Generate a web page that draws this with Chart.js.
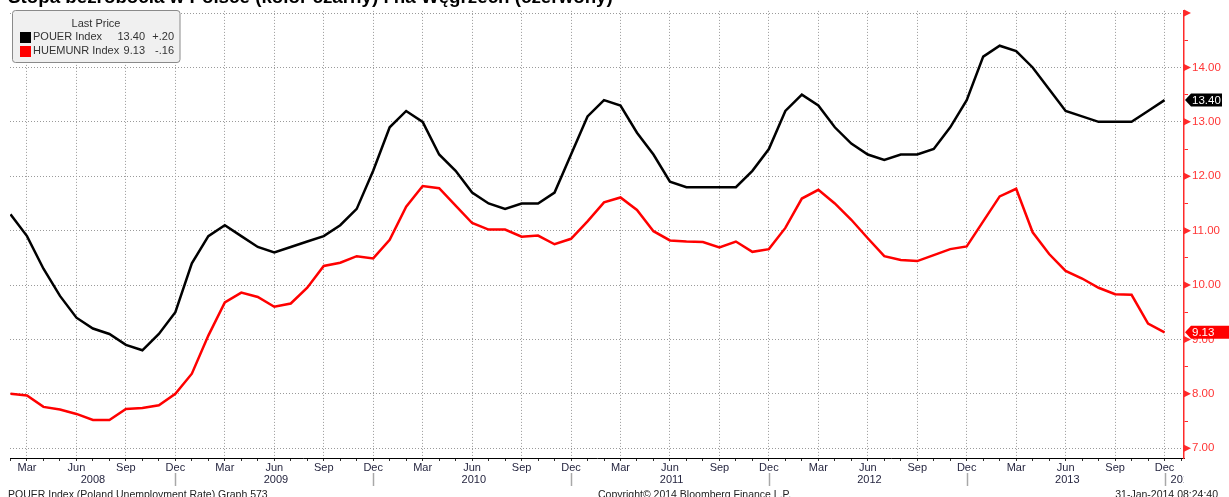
<!DOCTYPE html>
<html lang="pl">
<head>
  <meta charset="UTF-8">
  <title>Stopa bezrobocia w Polsce i na Węgrzech</title>
  <script src="https://cdn.jsdelivr.net/npm/chart.js"></script>
  <style>
    * { margin: 0; padding: 0; box-sizing: border-box; }
    body { width: 1229px; height: 497px; overflow: hidden; background: #fff; }
  </style>
</head>
<body>
  <canvas id="chart" width="1229" height="497"></canvas>

  <script>
    // months are counted from Jan 2008 (0); the series start in Feb 2008
    const firstMonth = 1;
    const quarterNames = { 2: 'Mar', 5: 'Jun', 8: 'Sep', 11: 'Dec' };
    const years = [2008, 2009, 2010, 2011, 2012, 2013, 2014];

    // POUER Index - Poland unemployment rate (black)
    const pouer = [
      11.3, 10.9, 10.3, 9.8, 9.4, 9.2, 9.1, 8.9, 8.8, 9.1, 9.5,
      10.4, 10.9, 11.1, 10.9, 10.7, 10.6, 10.7, 10.8, 10.9, 11.1, 11.4, 12.1,
      12.9, 13.2, 13.0, 12.4, 12.1, 11.7, 11.5, 11.4, 11.5, 11.5, 11.7, 12.4,
      13.1, 13.4, 13.3, 12.8, 12.4, 11.9, 11.8, 11.8, 11.8, 11.8, 12.1, 12.5,
      13.2, 13.5, 13.3, 12.9, 12.6, 12.4, 12.3, 12.4, 12.4, 12.5, 12.9, 13.4,
      14.2, 14.4, 14.3, 14.0, 13.6, 13.2, 13.1, 13.0, 13.0, 13.0, 13.2, 13.4
    ];

    // HUEMUNR Index - Hungary unemployment rate (red)
    const huemunr = [
      8.0, 7.97, 7.76, 7.71, 7.63, 7.52, 7.52, 7.72, 7.74, 7.79, 8.0,
      8.37, 9.07, 9.68, 9.86, 9.78, 9.6, 9.66, 9.95, 10.35, 10.41, 10.53, 10.49,
      10.83, 11.44, 11.82, 11.78, 11.46, 11.14, 11.02, 11.02, 10.89, 10.91, 10.75, 10.85,
      11.17, 11.52, 11.61, 11.38, 10.99, 10.82, 10.8, 10.79, 10.69, 10.8, 10.61, 10.66,
      11.05, 11.59, 11.75, 11.5, 11.2, 10.86, 10.53, 10.46, 10.44, 10.55, 10.66, 10.71,
      11.17, 11.63, 11.77, 10.97, 10.57, 10.26, 10.12, 9.95, 9.83, 9.82, 9.29, 9.13
    ];

    const legendRows = [
      { name: 'POUER Index', last: '13.40', change: '+.20', color: '#000' },
      { name: 'HUEMUNR Index', last: '9.13', change: '-.16', color: '#ff0000' }
    ];

    const title = 'Stopa bezrobocia w Polsce (kolor czarny) i na Węgrzech (czerwony)';
    const footerLeft = 'POUER Index (Poland Unemployment Rate) Graph 573';
    const footerMid = 'Copyright\u00a9 2014 Bloomberg Finance L.P.';
    const footerRight = '31-Jan-2014 08:24:40';

    const FONT = "'Liberation Sans', Arial, sans-serif";
    const RED = '#ff2a2a';
    const GRID = '#9a9a9a';

    const toPoints = arr => arr.map((v, i) => ({ x: firstMonth + i, y: v }));

    // everything Bloomberg draws around the plot
    const decorations = {
      id: 'decorations',
      afterDraw(chart) {
        const { ctx, chartArea: area, scales: { x, y } } = chart;
        ctx.save();

        // title, cut off at the top like the source screenshot
        ctx.font = 'bold 17px ' + FONT;
        const size = 17 * 605 / ctx.measureText(title).width;
        ctx.font = `bold ${size}px ${FONT}`;
        ctx.fillStyle = '#000';
        ctx.textAlign = 'left';
        ctx.textBaseline = 'alphabetic';
        ctx.fillText(title, 8, 2.5);

        // legend box
        ctx.beginPath();
        ctx.roundRect(12.5, 10.5, 167.5, 52, 3);
        ctx.fillStyle = '#f0f0f0';
        ctx.fill();
        ctx.strokeStyle = '#8a8a8a';
        ctx.lineWidth = 1;
        ctx.stroke();
        ctx.font = '11px ' + FONT;
        ctx.fillStyle = '#333';
        ctx.textAlign = 'center';
        ctx.textBaseline = 'middle';
        ctx.fillText('Last Price', 96, 24);
        legendRows.forEach((r, i) => {
          const cy = 37 + i * 14;
          ctx.fillStyle = r.color;
          ctx.fillRect(20, cy - 5, 11, 11);
          ctx.fillStyle = '#333';
          ctx.textAlign = 'left';
          ctx.fillText(r.name, 33, cy);
          ctx.textAlign = 'right';
          ctx.fillText(r.last, 145, cy);
          ctx.fillText(r.change, 174, cy);
        });

        // red arrow ticks on the price axis
        ctx.fillStyle = RED;
        y.ticks.filter(t => Number.isInteger(t.value)).forEach(t => {
          const py = y.getPixelForValue(t.value);
          ctx.beginPath();
          ctx.moveTo(area.right, py - 3.5);
          ctx.lineTo(area.right + 7, py);
          ctx.lineTo(area.right, py + 3.5);
          ctx.closePath();
          ctx.fill();
        });

        // last value tags
        const tag = (value, text, bg, right) => {
          const py = y.getPixelForValue(value);
          ctx.beginPath();
          ctx.moveTo(area.right + 1, py);
          ctx.lineTo(area.right + 7, py - 6.5);
          ctx.lineTo(right, py - 6.5);
          ctx.lineTo(right, py + 6.5);
          ctx.lineTo(area.right + 7, py + 6.5);
          ctx.closePath();
          ctx.fillStyle = bg;
          ctx.fill();
          ctx.fillStyle = '#fff';
          ctx.font = '11.5px ' + FONT;
          ctx.textAlign = 'left';
          ctx.textBaseline = 'middle';
          ctx.fillText(text, area.right + 8, py + 0.5);
        };
        tag(pouer[pouer.length - 1], legendRows[0].last, '#000', 1222);
        tag(huemunr[huemunr.length - 1], legendRows[1].last, '#ff0000', 1229);

        // year labels and separators under the month ticks
        ctx.font = '11px ' + FONT;
        ctx.fillStyle = '#262640';
        ctx.textBaseline = 'middle';
        const lastMonth = firstMonth + pouer.length - 1;
        years.forEach((yr, i) => {
          const y0 = i * 12;
          const start = Math.max(y0, firstMonth);
          const end = y0 + 11;
          if (start > lastMonth) {
            // partial year at the right edge, clipped by the axis
            ctx.save();
            ctx.beginPath();
            ctx.rect(area.left, area.bottom, area.right - area.left, 40);
            ctx.clip();
            ctx.textAlign = 'left';
            ctx.fillText(String(yr), x.getPixelForValue(y0 - 1) + 6, 480);
            ctx.restore();
            return;
          }
          const mid = start > y0 ? (start + end) / 2 : (start + end) / 2 - 0.4;
          ctx.textAlign = 'center';
          ctx.fillText(String(yr), x.getPixelForValue(mid), 480);
          const sx = Math.round(x.getPixelForValue(end)) + 0.5;
          ctx.strokeStyle = '#a8a8a8';
          ctx.lineWidth = 1.5;
          ctx.beginPath();
          ctx.moveTo(sx, 473);
          ctx.lineTo(sx, 486);
          ctx.stroke();
        });

        // footer, cut at the bottom edge
        ctx.font = '10.5px ' + FONT;
        ctx.fillStyle = '#222';
        ctx.textBaseline = 'alphabetic';
        ctx.textAlign = 'left';
        ctx.fillText(footerLeft, 8, 497.5);
        ctx.fillText(footerMid, 598, 497.5);
        ctx.textAlign = 'right';
        ctx.fillText(footerRight, 1218, 497.5);

        ctx.restore();
      }
    };

    new Chart(document.getElementById('chart'), {
      type: 'line',
      data: {
        datasets: [
          {
            label: 'POUER Index',
            data: toPoints(pouer),
            borderColor: '#000',
            borderWidth: 2.5,
            pointRadius: 0,
            tension: 0
          },
          {
            label: 'HUEMUNR Index',
            data: toPoints(huemunr),
            borderColor: '#ff0000',
            borderWidth: 2.5,
            pointRadius: 0,
            tension: 0
          }
        ]
      },
      options: {
        responsive: false,
        animation: false,
        devicePixelRatio: 1,
        layout: { padding: { left: 10, top: 8, right: 0, bottom: 0 } },
        plugins: { legend: { display: false }, tooltip: { enabled: false } },
        scales: {
          x: {
            type: 'linear',
            min: 0.97,
            max: 72.18,
            afterFit(s) { s.height = 39; },
            border: { color: '#000', width: 1, dash: [1, 2] },
            grid: {
              color: c => (c.tick && c.tick.value % 3 === 2) ? GRID : 'transparent',
              tickColor: '#333',
              tickLength: 3
            },
            ticks: {
              stepSize: 1,
              maxTicksLimit: 1000,
              includeBounds: false,
              autoSkip: false,
              maxRotation: 0,
              padding: 0,
              color: '#262640',
              font: { family: FONT, size: 11 },
              callback: v => quarterNames[v % 12] || ''
            }
          },
          y: {
            position: 'right',
            min: 6.82,
            max: 15.04,
            afterFit(s) { s.width = 45; },
            border: { color: RED, width: 1.5, dash: [1, 2] },
            grid: {
              color: c => (c.tick && Number.isInteger(c.tick.value)) ? GRID : 'transparent',
              tickColor: RED,
              tickLength: 4
            },
            ticks: {
              stepSize: 0.5,
              maxTicksLimit: 1000,
              includeBounds: false,
              padding: 4,
              color: '#ff3535',
              font: { family: FONT, size: 11.5 },
              callback: v => (Number.isInteger(v) && v < 15) ? v.toFixed(2) : ''
            }
          }
        }
      },
      plugins: [decorations]
    });
  </script>
</body>
</html>
